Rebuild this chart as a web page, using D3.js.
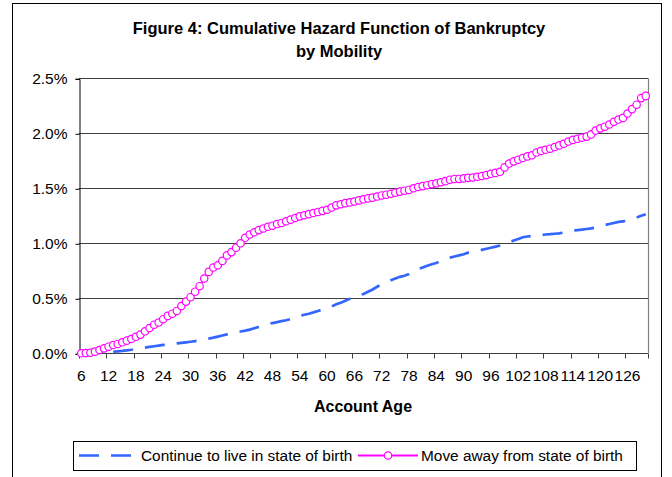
<!DOCTYPE html>
<html><head><meta charset="utf-8">
<script src="https://cdn.jsdelivr.net/npm/d3@7"></script>
<style>
html,body{margin:0;padding:0;background:#fff;}
svg{display:block;}
text{font-family:Arial,"Liberation Sans",sans-serif;}
</style></head>
<body>
<svg id="chart" width="672" height="477"></svg>
<script>
// ---------- data ----------
const months = d3.range(6, 131); // account ages 6..130
const tickLabels = [6,12,18,24,30,36,42,48,54,60,66,72,78,84,90,96,102,108,114,120,126];
const yTicks = [0, 0.005, 0.010, 0.015, 0.020, 0.025];
const seriesNames = ["Continue to live in state of birth", "Move away from state of birth"];
// values in percent
const stayValues = [
0.000,0.000,0.001,0.002,0.004,0.006,0.010,0.014,0.018,0.022,
0.027,0.032,0.038,0.045,0.052,0.058,0.064,0.070,0.076,0.080,
0.085,0.090,0.095,0.100,0.105,0.110,0.118,0.125,0.133,0.142,
0.152,0.162,0.172,0.182,0.190,0.198,0.206,0.215,0.228,0.240,
0.252,0.265,0.275,0.283,0.292,0.300,0.312,0.325,0.340,0.350,
0.360,0.372,0.385,0.398,0.410,0.425,0.445,0.460,0.478,0.495,
0.510,0.525,0.540,0.560,0.580,0.605,0.630,0.650,0.665,0.680,
0.695,0.705,0.720,0.750,0.765,0.780,0.795,0.810,0.820,0.845,
0.860,0.870,0.880,0.890,0.900,0.915,0.925,0.930,0.940,0.950,
0.960,0.970,0.980,0.995,1.010,1.025,1.040,1.055,1.062,1.066,
1.070,1.075,1.080,1.083,1.087,1.090,1.098,1.108,1.115,1.120,
1.125,1.130,1.135,1.142,1.155,1.165,1.175,1.185,1.195,1.200,
1.205,1.220,1.235,1.250,1.265];
const moveValues = [
0.000,0.002,0.005,0.015,0.030,0.045,0.060,0.075,0.085,0.100,
0.115,0.130,0.150,0.170,0.200,0.230,0.260,0.280,0.310,0.340,
0.360,0.385,0.430,0.470,0.510,0.560,0.610,0.680,0.740,0.780,
0.800,0.840,0.890,0.920,0.960,1.000,1.050,1.080,1.100,1.120,
1.135,1.150,1.160,1.175,1.185,1.200,1.215,1.230,1.245,1.255,
1.265,1.275,1.285,1.295,1.305,1.325,1.345,1.355,1.365,1.372,
1.380,1.390,1.400,1.408,1.415,1.425,1.435,1.442,1.450,1.460,
1.470,1.478,1.485,1.500,1.512,1.520,1.528,1.538,1.545,1.555,
1.565,1.578,1.585,1.585,1.590,1.595,1.598,1.605,1.612,1.620,
1.632,1.640,1.650,1.690,1.725,1.745,1.760,1.775,1.790,1.800,
1.825,1.840,1.850,1.860,1.875,1.890,1.905,1.925,1.940,1.950,
1.960,1.970,1.990,2.025,2.045,2.060,2.080,2.105,2.125,2.140,
2.180,2.220,2.260,2.320,2.340];

// ---------- layout ----------
const svg = d3.select("#chart");
const L = 79, R = 648, T = 78.3, B = 353.3;
const blue = "#3366FF", magenta = "#FF00FF";
const FS = 15.5;

// outer frame
svg.append("rect").attr("x", 12.5).attr("y", 3.5).attr("width", 649).attr("height", 490)
  .attr("fill", "#fff").attr("stroke", "#000").attr("stroke-width", 1);

const x = d3.scaleBand().domain(months).range([L, R]).paddingInner(0).paddingOuter(0);
const y = d3.scaleLinear().domain([0, 0.025]).range([B, T]);

// gridlines
svg.append("g").selectAll("line").data(yTicks.slice(1)).join("line")
  .attr("x1", L).attr("x2", R)
  .attr("y1", d => Math.round(y(d)) + 0.5).attr("y2", d => Math.round(y(d)) + 0.5)
  .attr("stroke", "#404040").attr("stroke-width", 1);
// right plot border
svg.append("line").attr("x1", R + 0.5).attr("x2", R + 0.5).attr("y1", T).attr("y2", B)
  .attr("stroke", "#808080").attr("stroke-width", 1.2);

// y axis
const yAxis = d3.axisLeft(y).tickValues(yTicks).tickSize(4).tickPadding(8)
  .tickFormat(d3.format(".1%"));
const gy = svg.append("g").attr("transform", `translate(${L + 0.5},0.5)`).call(yAxis);
gy.select(".domain").attr("stroke", "#000");
gy.selectAll(".tick line").attr("stroke", "#000");
gy.selectAll("text").attr("font-size", FS).attr("fill", "#000")
  .attr("font-family", "Arial, 'Liberation Sans', sans-serif");

// x axis
const xAxis = d3.axisBottom(x).tickValues(tickLabels).tickSize(0).tickPadding(16);
const gx = svg.append("g").attr("transform", `translate(0,${Math.round(B) + 0.5})`).call(xAxis);
gx.select(".domain").attr("stroke", "#404040").attr("d", `M${L},0H${R}`);
gx.selectAll("text").attr("font-size", FS).attr("fill", "#000")
  .attr("font-family", "Arial, 'Liberation Sans', sans-serif");
// tick marks at category boundaries (every 6 categories)
const tickMarks = tickLabels.map(m => x(m)).concat([R]);
gx.append("g").selectAll("line").data(tickMarks).join("line")
  .attr("x1", d => Math.round(d) + 0.5).attr("x2", d => Math.round(d) + 0.5)
  .attr("y1", 0).attr("y2", 5).attr("stroke", "#404040");

// lines
const cx = m => x(m) + x.bandwidth() / 2;
const lineGen = d3.line().x(d => cx(d[0])).y(d => y(d[1] / 100));
const stayData = months.map((m, i) => [m, stayValues[i]]);
const moveData = months.map((m, i) => [m, moveValues[i]]);

svg.append("path").datum(stayData).attr("d", lineGen)
  .attr("fill", "none").attr("stroke", blue).attr("stroke-width", 2.7)
  .attr("stroke-dasharray", "20,12");

svg.append("path").datum(moveData).attr("d", lineGen)
  .attr("fill", "none").attr("stroke", magenta).attr("stroke-width", 2);
svg.append("g").selectAll("circle").data(moveData).join("circle")
  .attr("cx", d => cx(d[0])).attr("cy", d => y(d[1] / 100)).attr("r", 3.7)
  .attr("fill", "#fff").attr("stroke", magenta).attr("stroke-width", 1.2);

// title
svg.append("text").attr("x", 339).attr("y", 34).attr("text-anchor", "middle")
  .attr("font-size", 16.5).attr("font-weight", "bold")
  .text("Figure 4: Cumulative Hazard Function of Bankruptcy");
svg.append("text").attr("x", 339).attr("y", 57).attr("text-anchor", "middle")
  .attr("font-size", 16.5).attr("font-weight", "bold")
  .text("by Mobility");

// x axis title
svg.append("text").attr("x", 363).attr("y", 412).attr("text-anchor", "middle")
  .attr("font-size", 16).attr("font-weight", "bold").text("Account Age");

// legend
const lg = svg.append("g");
lg.append("rect").attr("x", 73.5).attr("y", 441.5).attr("width", 563).attr("height", 29)
  .attr("fill", "#fff").attr("stroke", "#000").attr("stroke-width", 1);
lg.append("line").attr("x1", 79).attr("x2", 131).attr("y1", 455.5).attr("y2", 455.5)
  .attr("stroke", blue).attr("stroke-width", 2.7).attr("stroke-dasharray", "20,12");
lg.append("text").attr("x", 141).attr("y", 461).attr("font-size", 15.4).text(seriesNames[0]);
lg.append("line").attr("x1", 358).attr("x2", 418).attr("y1", 455.5).attr("y2", 455.5)
  .attr("stroke", magenta).attr("stroke-width", 2);
lg.append("circle").attr("cx", 388).attr("cy", 455.5).attr("r", 3.7)
  .attr("fill", "#fff").attr("stroke", magenta).attr("stroke-width", 1.2);
lg.append("text").attr("x", 421).attr("y", 461).attr("font-size", 15.4).text(seriesNames[1]);
</script>
</body></html>
